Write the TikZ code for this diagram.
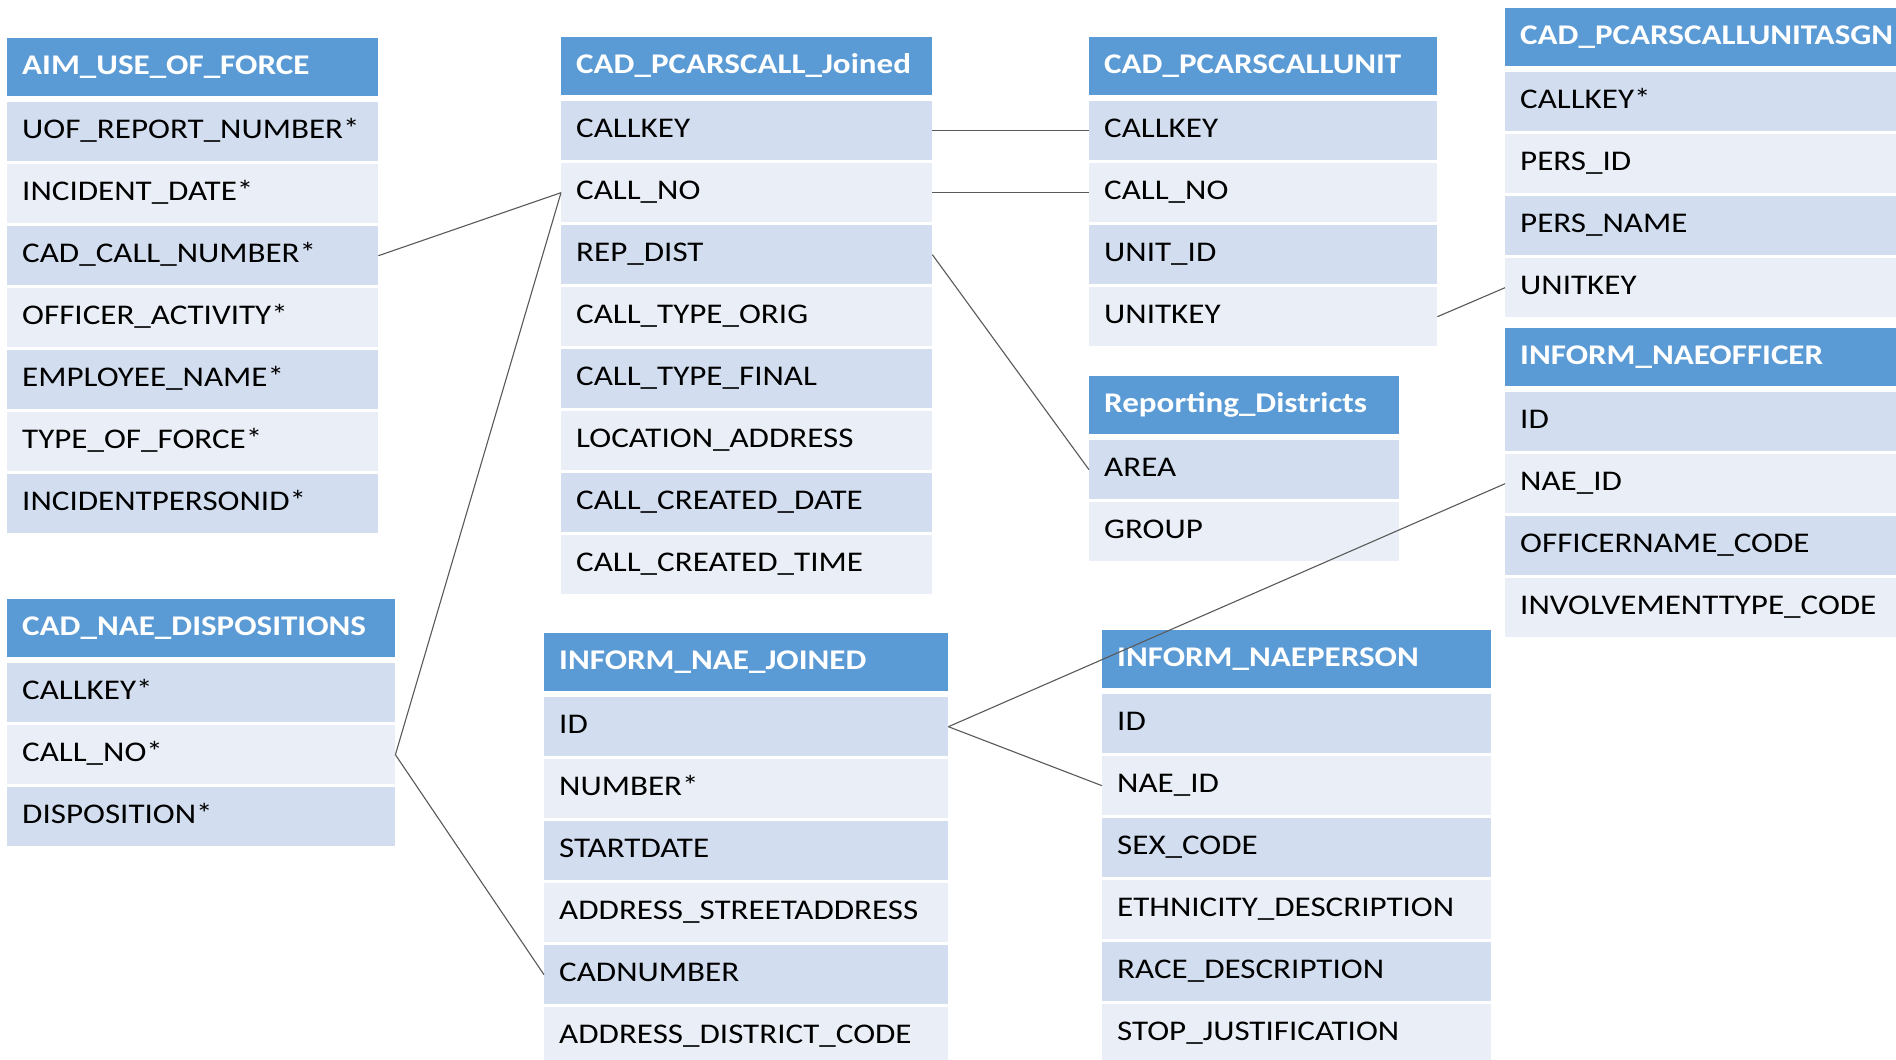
\documentclass[tikz,border=0pt]{standalone}
\usepackage{fontspec}
\setmainfont{Carlito}[FakeStretch=1.16]
\definecolor{hdrblue}{HTML}{5B9BD5}
\definecolor{rowA}{HTML}{D2DEEF}
\definecolor{rowB}{HTML}{EAEFF7}
\definecolor{linkgray}{HTML}{595959}
\tikzset{
  hdrbox/.style={anchor=north west, fill=hdrblue, inner sep=0pt, minimum height=58pt},
  hdrtxt/.style={anchor=base west, inner sep=0pt, text=white, font=\fontsize{28.5}{30}\selectfont\bfseries},
  rowbox/.style={anchor=north west, inner sep=0pt, minimum height=59pt},
  rowtxt/.style={anchor=base west, inner sep=0pt, text=black, font=\fontsize{28.5}{30}\selectfont},
  link/.style={draw=linkgray, line width=1.1pt}
}
\newcommand\ertable[6]{%
  \node[hdrbox, minimum width=#4pt] (#1-h) at (#2,#3) {};
  \node[hdrtxt, xshift=15pt, yshift=-7.5pt] (#1-ht) at (#1-h.west) {#5};
  \foreach \rtext [count=\ri] in {#6} {%
    \ifodd\ri\def\rowcol{rowA}\else\def\rowcol{rowB}\fi
    \node[rowbox, minimum width=#4pt, fill=\rowcol] (#1-\ri) at (#2,{#3+64+(\ri-1)*62}) {};
    \node[rowtxt, xshift=15pt, yshift=-6.5pt] (#1-\ri-t) at (#1-\ri.west) {\rtext};
  }%
}
\begin{document}
\begin{tikzpicture}[x=1pt,y=-1pt]
\useasboundingbox (0,0) rectangle (1896,1060);
\clip (0,0) rectangle (1896,1060);
\fill[white] (0,0) rectangle (1896,1060);
\ertable{aim}{7}{38}{371}{AIM\_USE\_OF\_FORCE}{UOF\_REPORT\_NUMBER*,INCIDENT\_DATE*,CAD\_CALL\_NUMBER*,OFFICER\_ACTIVITY*,EMPLOYEE\_NAME*,TYPE\_OF\_FORCE*,INCIDENTPERSONID*}
\ertable{jn}{561}{37}{371}{CAD\_PCARSCALL\_Joined}{CALLKEY,CALL\_NO,REP\_DIST,CALL\_TYPE\_ORIG,CALL\_TYPE\_FINAL,LOCATION\_ADDRESS,CALL\_CREATED\_DATE,CALL\_CREATED\_TIME}
\ertable{unit}{1089}{37}{348}{CAD\_PCARSCALLUNIT}{CALLKEY,CALL\_NO,UNIT\_ID,UNITKEY}
\ertable{asgn}{1505}{8}{420}{CAD\_PCARSCALLUNITASGN}{CALLKEY*,PERS\_ID,PERS\_NAME,UNITKEY}
\ertable{off}{1505}{328}{420}{INFORM\_NAEOFFICER}{ID,NAE\_ID,OFFICERNAME\_CODE,INVOLVEMENTTYPE\_CODE}
\ertable{rd}{1089}{376}{310}{Reporting\_Districts}{AREA,GROUP}
\ertable{disp}{7}{599}{388}{CAD\_NAE\_DISPOSITIONS}{CALLKEY*,CALL\_NO*,DISPOSITION*}
\ertable{nj}{544}{633}{404}{INFORM\_NAE\_JOINED}{ID,NUMBER*,STARTDATE,ADDRESS\_STREETADDRESS,CADNUMBER,ADDRESS\_DISTRICT\_CODE}
\ertable{np}{1102}{630}{389}{INFORM\_NAEPERSON}{ID,NAE\_ID,SEX\_CODE,ETHNICITY\_DESCRIPTION,RACE\_DESCRIPTION,STOP\_JUSTIFICATION}
% connectors
\draw[link] (aim-3.east) -- (jn-2.west);
\draw[link] (disp-2.east) -- (jn-2.west);
\draw[link] (disp-2.east) -- (nj-5.west);
\draw[link] (jn-1.east) -- (unit-1.west);
\draw[link] (jn-2.east) -- (unit-2.west);
\draw[link] (jn-3.east) -- (rd-1.west);
\draw[link] (unit-4.east) -- (asgn-4.west);
\draw[link] (nj-1.east) -- (off-2.west);
\draw[link] (nj-1.east) -- (np-2.west);
\end{tikzpicture}
\end{document}
